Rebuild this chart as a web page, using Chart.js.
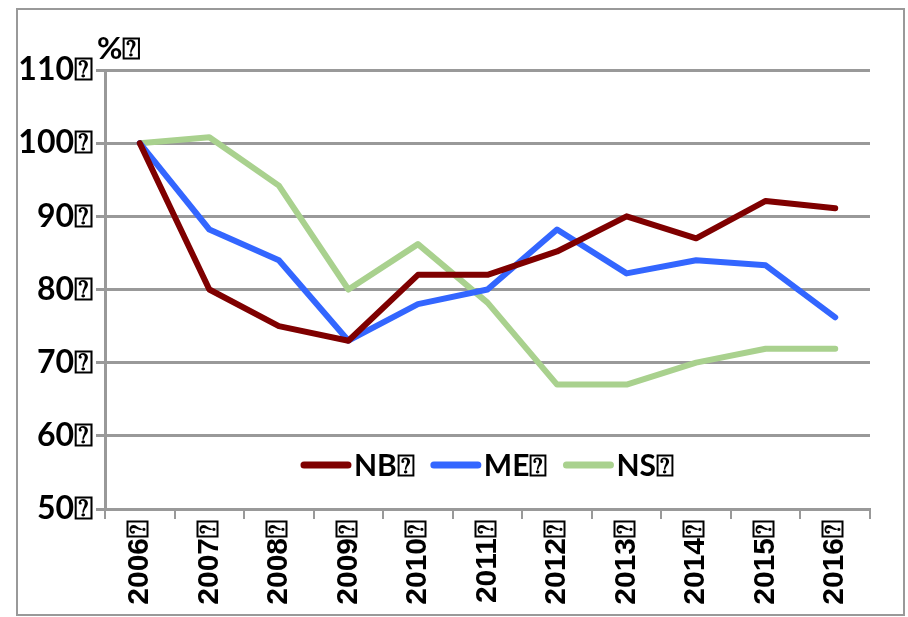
<!DOCTYPE html>
<html>
<head>
<meta charset="utf-8">
<script src="https://cdn.jsdelivr.net/npm/chart.js@4/dist/chart.umd.min.js"></script>
<style>
html,body{margin:0;padding:0;background:#fff;}
#wrap{width:908px;height:617px;position:relative;}
</style>
</head>
<body>
<div id="wrap"><canvas id="c" width="908" height="617"></canvas></div>
<script>
const BOX = '\u2370';
const categories = ['2006','2007','2008','2009','2010','2011','2012','2013','2014','2015','2016'];
const nbValues = [100, 80, 75, 73, 82, 82, 85.2, 90, 87, 92.1, 91.1];
const meValues = [100, 88.2, 84, 73, 78, 80, 88.2, 82.2, 84, 83.3, 76.2];
const nsValues = [100, 100.8, 94.2, 80, 86.2, 78.2, 67, 67, 70, 71.9, 71.9];
const seriesNames = ['NB', 'ME', 'NS'];
const yTicks = [50, 60, 70, 80, 90, 100, 110];
const unitLabel = '%';

const colors = ['#7f0000', '#3366ff', '#a9d18e'];
const labelFont = '"Lato", "Open Sans", sans-serif';

const frame = {
  id: 'frame',
  beforeDraw(chart) {
    const ctx = chart.ctx;
    ctx.save();
    ctx.fillStyle = '#fff';
    ctx.fillRect(0, 0, chart.width, chart.height);
    ctx.strokeStyle = '#999';
    ctx.lineWidth = 2;
    ctx.strokeRect(17, 9, 887, 606);
    ctx.restore();
  },
  afterDraw(chart) {
    const ctx = chart.ctx;
    const a = chart.chartArea;
    ctx.save();
    ctx.fillStyle = '#000';
    ctx.font = 'bold 31px ' + labelFont;
    ctx.textBaseline = 'alphabetic';
    ctx.textAlign = 'left';
    ctx.fillText(unitLabel + BOX, a.left - 8, a.top - 11);
    // legend
    ctx.font = 'bold 30px ' + labelFont;
    const items = chart.data.datasets.map(d => ({ text: d.label, color: d.borderColor }));
    const lineLen = 50, gapLT = 3, gapItem = 16;
    let total = 0;
    items.forEach((it, i) => {
      it.w = ctx.measureText(it.text).width;
      total += lineLen + gapLT + it.w + (i < items.length - 1 ? gapItem : 0);
    });
    let x = (a.left + a.right) / 2 - total / 2;
    const yc = a.bottom - 44;
    items.forEach(it => {
      ctx.strokeStyle = it.color;
      ctx.lineWidth = 7;
      ctx.lineCap = 'round';
      ctx.beginPath();
      ctx.moveTo(x + 3, yc);
      ctx.lineTo(x + lineLen - 3, yc);
      ctx.stroke();
      x += lineLen + gapLT;
      ctx.fillStyle = '#000';
      ctx.textBaseline = 'middle';
      ctx.fillText(it.text, x, yc + 1);
      x += it.w + gapItem;
    });
    ctx.restore();
  }
};

const datasets = [nbValues, meValues, nsValues].map((vals, i) => ({
  label: seriesNames[i] + BOX,
  data: vals,
  borderColor: colors[i],
  backgroundColor: colors[i],
  borderWidth: 6,
  pointRadius: 0,
  tension: 0,
  borderJoinStyle: 'round',
  borderCapStyle: 'round',
  order: i + 1
}));

new Chart(document.getElementById('c'), {
  type: 'line',
  data: { labels: categories.map(c => c + BOX), datasets },
  options: {
    responsive: false,
    animation: false,
    devicePixelRatio: 1,
    layout: { padding: { left: 0, top: 70, right: 38, bottom: 0 } },
    plugins: { legend: { display: false }, tooltip: { enabled: false } },
    scales: {
      x: {
        type: 'category',
        offset: true,
        grid: { display: true, drawOnChartArea: false, drawTicks: true, tickLength: 10, color: '#999', lineWidth: 2, offset: true },
        border: { display: true, color: '#999', width: 3 },
        ticks: {
          minRotation: 90, maxRotation: 90, autoSkip: false,
          color: '#000', padding: 1,
          font: { family: '"Liberation Sans", Arial, sans-serif', weight: 'bold', size: 30 }
        },
        afterFit(scale) { scale.height = 617 - 509; }
      },
      y: {
        min: 50, max: 110,
        afterBuildTicks(scale) { scale.ticks = yTicks.map(v => ({ value: v })); },
        grid: { color: '#999', lineWidth: 3, tickLength: 9, drawTicks: true },
        border: { display: true, color: '#999', width: 3 },
        ticks: {
          color: '#000', padding: 3,
          font: { family: labelFont, weight: 'bold', size: 32 },
          callback: v => v + BOX
        },
        afterFit(scale) { scale.width = 105; }
      }
    }
  },
  plugins: [frame]
});
</script>
</body>
</html>
